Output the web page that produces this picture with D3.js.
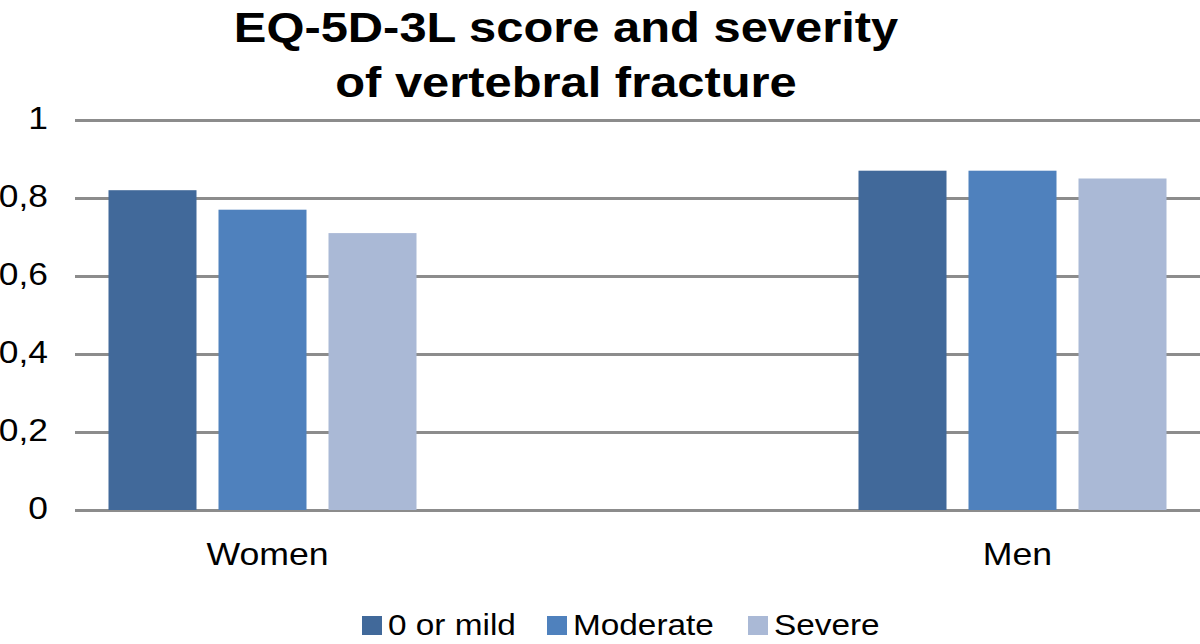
<!DOCTYPE html>
<html><head><meta charset="utf-8">
<script src="https://cdn.jsdelivr.net/npm/d3@7"></script>
<style>html,body{margin:0;padding:0;background:#fff;}svg{display:block;font-family:"Liberation Sans",Arial,Helvetica,sans-serif;}</style>
</head><body>
<svg id="chart" width="1200" height="644"></svg>
<script>
const categories = ["Women", "Men"];
const seriesNames = ["0 or mild", "Moderate", "Severe"];
const seriesColors = ["#41699a", "#4f81bd", "#aab9d6"];
const valuesMild = [0.82, 0.87];
const valuesModerate = [0.77, 0.87];
const valuesSevere = [0.71, 0.85];
const yTicks = [0, 0.2, 0.4, 0.6, 0.8, 1];
const titleLines = ["EQ-5D-3L score and severity", "of vertebral fracture"];

const seriesValues = [valuesMild, valuesModerate, valuesSevere];
const svg = d3.select("#chart");
const plotLeft = 75, plotRight = 1200, plotTop = 120, plotBottom = 510;
const SX = 1.16; // horizontal stretch of the lettering in the reference

const y = d3.scaleLinear().domain([0, 1]).range([plotBottom, plotTop]);
const x = d3.scalePoint().domain(categories).range([plotLeft, plotRight]).padding(0.25);
const xs = d3.scaleBand().domain(seriesNames).range([-165, 165]).paddingInner(0.2).paddingOuter(0.1);

function label(px, py, txt, size, anchor, weight, sx) {
  return svg.append("text")
    .attr("transform", `translate(${px},${py}) scale(${sx || SX},1)`)
    .attr("text-anchor", anchor || "start")
    .style("font-size", size + "px")
    .style("font-weight", weight || "normal")
    .attr("fill", "#000")
    .text(txt);
}

// gridlines
const yAxis = d3.axisLeft(y).tickValues(yTicks).tickSize(-(plotRight - plotLeft)).tickFormat("");
const gy = svg.append("g").attr("transform", `translate(${plotLeft},0)`).call(yAxis);
gy.select(".domain").remove();
gy.selectAll(".tick line").attr("stroke", "#8c8c8c").attr("stroke-width", 3);

// y tick labels
const fmt = d => d3.format("")(d).replace(".", ",");
yTicks.forEach(t => label(48, y(t) + 9, fmt(t), 30.5, "end"));

// bars
categories.forEach((c, ci) => {
  seriesNames.forEach((s, si) => {
    svg.append("rect")
      .attr("x", x(c) + xs(s))
      .attr("y", y(seriesValues[si][ci]))
      .attr("width", xs.bandwidth())
      .attr("height", y(0) - y(seriesValues[si][ci]))
      .attr("fill", seriesColors[si]);
  });
});

// x labels
categories.forEach(c => label(x(c) + 5, 565, c, 31, "middle", "normal", 1.15));

// title
label(566, 42, titleLines[0], 42.5, "middle", "bold", 1.15);
label(566, 97, titleLines[1], 42.5, "middle", "bold", 1.15);

// legend
const legendX = [362, 547, 748];
seriesNames.forEach((s, i) => {
  svg.append("rect").attr("x", legendX[i]).attr("y", 616).attr("width", 20).attr("height", 19).attr("fill", seriesColors[i]);
  label(legendX[i] + 26, 635, s, 29, "start", "normal", 1.15);
});
</script>
</body></html>
